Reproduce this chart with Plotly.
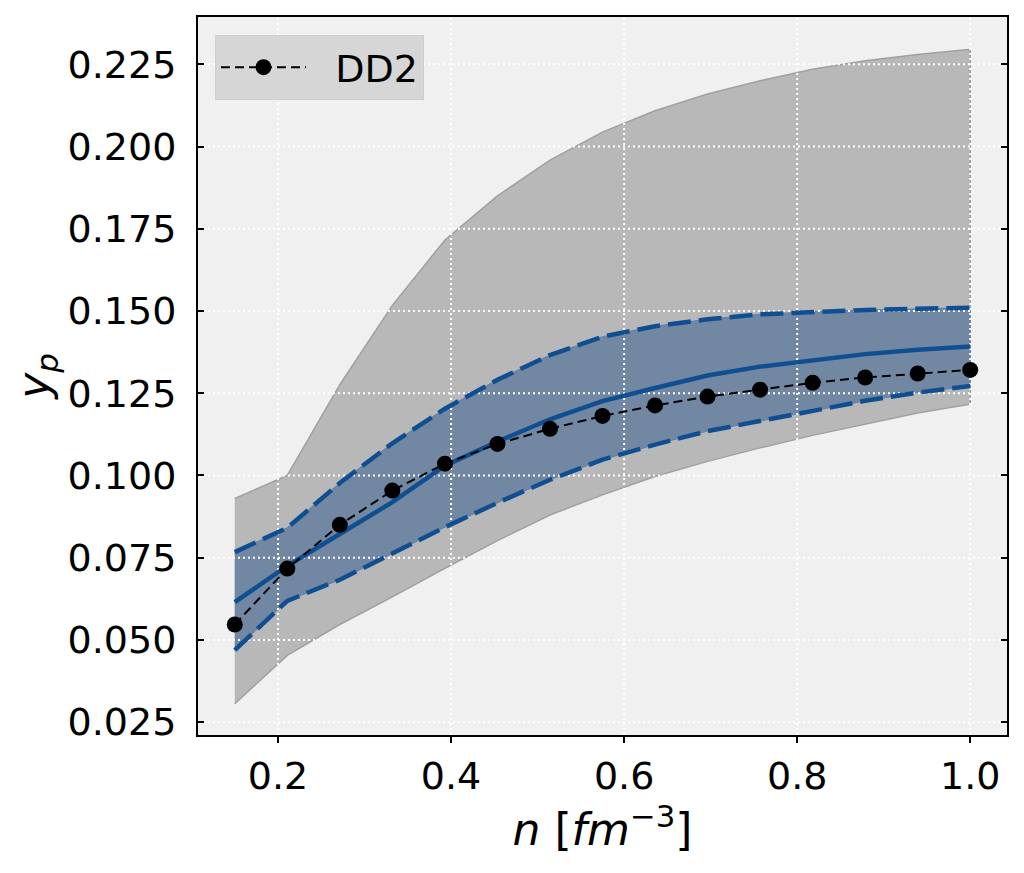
import plotly.graph_objects as go

# ---- data ----
n = [0.15, 0.2107, 0.2714, 0.3321, 0.3929, 0.4536, 0.5143, 0.5750,
     0.6357, 0.6964, 0.7571, 0.8179, 0.8786, 0.9393, 1.0]
dd2 = [0.0547, 0.0717, 0.0850, 0.0954, 0.1036, 0.1096, 0.1142, 0.1181,
       0.1213, 0.1240, 0.1261, 0.1282, 0.1298, 0.1310, 0.1321]
mean = [0.0615, 0.0725, 0.0822, 0.0919, 0.1030, 0.1103, 0.1171, 0.1226,
        0.1266, 0.1304, 0.1331, 0.1351, 0.1369, 0.1382, 0.1392]
blue_up = [0.0767, 0.0841, 0.0977, 0.1098, 0.1203, 0.1291, 0.1366, 0.1422,
           0.1454, 0.1475, 0.1490, 0.1498, 0.1503, 0.1507, 0.1510]
blue_lo = [0.0469, 0.0619, 0.0683, 0.0762, 0.0843, 0.0917, 0.0987, 0.1048,
           0.1094, 0.1135, 0.1166, 0.1196, 0.1227, 0.1252, 0.1272]
gray_up = [0.0930, 0.1000, 0.1276, 0.1517, 0.1716, 0.1850, 0.1959, 0.2044,
           0.2109, 0.2160, 0.2200, 0.2235, 0.2261, 0.2280, 0.2296]
gray_lo = [0.0306, 0.0453, 0.0547, 0.0631, 0.0718, 0.0802, 0.0880, 0.0941,
           0.0997, 0.1043, 0.1084, 0.1122, 0.1155, 0.1190, 0.1217]

x_ticks = [0.2, 0.4, 0.6, 0.8, 1.0]
y_ticks = [0.025, 0.050, 0.075, 0.100, 0.125, 0.150, 0.175, 0.200, 0.225]
x_range = [0.1075, 1.0425]
y_range = [0.0211, 0.2394]

FONT = "DejaVu Sans"
BLUE = "#0f4f91"

fig = go.Figure()

# gray band
fig.add_trace(go.Scatter(
    x=n + n[::-1], y=gray_up + gray_lo[::-1], fill="toself",
    fillcolor="#b8b8b8", line=dict(color="#a0a0a0", width=1.5),
    mode="lines", showlegend=False, hoverinfo="skip"))
# blue band
fig.add_trace(go.Scatter(
    x=n + n[::-1], y=blue_up + blue_lo[::-1], fill="toself",
    fillcolor="#7287a2", line=dict(color="#5f7fa6", width=1),
    mode="lines", showlegend=False, hoverinfo="skip"))

# grid lines (drawn above fills, below lines like matplotlib)
gx, gy = [], []
for t in x_ticks:
    gx += [t, t, None]
    gy += [y_range[0], y_range[1], None]
for t in y_ticks:
    gx += [x_range[0], x_range[1], None]
    gy += [t, t, None]
fig.add_trace(go.Scatter(x=gx, y=gy, mode="lines",
                         line=dict(color="white", width=2, dash="2px,3px"),
                         showlegend=False, hoverinfo="skip"))

# blue lines
fig.add_trace(go.Scatter(x=n, y=blue_up, mode="lines",
                         line=dict(color=BLUE, width=4.5, dash="23px,8px"),
                         showlegend=False))
fig.add_trace(go.Scatter(x=n, y=blue_lo, mode="lines",
                         line=dict(color=BLUE, width=4.5, dash="23px,8px"),
                         showlegend=False))
fig.add_trace(go.Scatter(x=n, y=mean, mode="lines",
                         line=dict(color=BLUE, width=4.5), showlegend=False))

# DD2
fig.add_trace(go.Scatter(x=n, y=dd2, mode="lines+markers",
                         name="\u00a0\u00a0DD2",
                         line=dict(color="black", width=2, dash="9px,5px"),
                         marker=dict(color="black", size=16)))

fig.update_layout(
    width=1024, height=873,
    margin=dict(l=190, r=25, t=7, b=146),
    paper_bgcolor="white", plot_bgcolor="#f0f0f0",
    font=dict(family=FONT, size=38, color="black"),
    legend=dict(x=0.021, y=0.975, xanchor="left", yanchor="top",
                bgcolor="#d6d6d6", bordercolor="#cfcfcf", borderwidth=1,
                font=dict(size=38), itemwidth=85),
    xaxis=dict(range=x_range, tickvals=x_ticks,
               ticktext=[f"{v:.1f}" for v in x_ticks],
               showgrid=False, zeroline=False,
               showline=True, linecolor="black", linewidth=2, mirror=True,
               ticks="outside", ticklen=6, tickwidth=1.5, tickcolor="black",
               title=dict(text="<i>n</i> [<i>fm</i><sup>−3</sup>]",
                          font=dict(size=44), standoff=8)),
    yaxis=dict(range=y_range, tickvals=y_ticks,
               ticktext=[f"{v:.3f}" for v in y_ticks],
               showgrid=False, zeroline=False,
               showline=True, linecolor="black", linewidth=2, mirror="ticks",
               ticks="inside", ticklen=6, tickwidth=2, tickcolor="black",
               ticklabelstandoff=12,
               title=dict(text="<i>y</i><sub><i>p</i></sub>",
                          font=dict(size=44), standoff=14)),
)

fig.write_html("out.html")
